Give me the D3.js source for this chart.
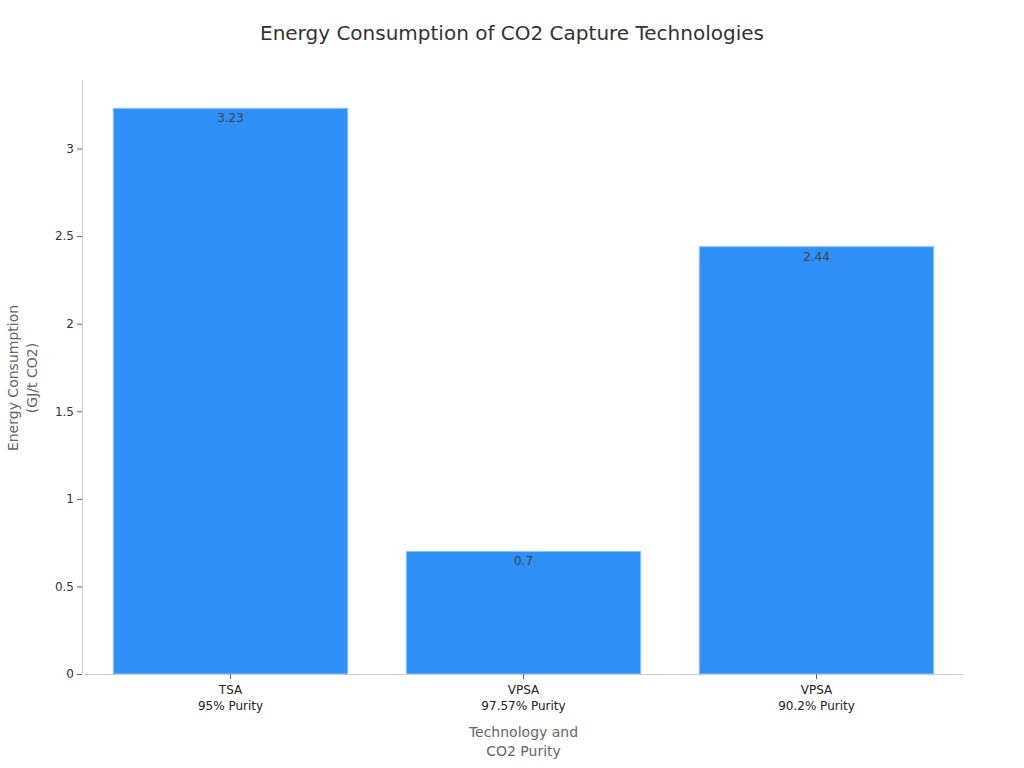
<!DOCTYPE html>
<html>
<head>
<meta charset="utf-8">
<script src="https://cdn.jsdelivr.net/npm/d3@7.9.0/dist/d3.min.js"></script>
<style>
  body { margin: 0; background: #fff; font-family: "DejaVu Sans", sans-serif; }
</style>
</head>
<body>
<div id="chart"></div>
<script>
const technologies = ['TSA', 'VPSA', 'VPSA'];
const purities = ['95% Purity', '97.57% Purity', '90.2% Purity'];
const energy = [3.23, 0.7, 2.44];
const yTicks = [0, 0.5, 1, 1.5, 2, 2.5, 3];

const width = 1024;
const height = 768;
const margin = {top: 80, right: 61, bottom: 94, left: 82};

const rows = energy.map((v, i) => ({ id: i, tech: technologies[i], purity: purities[i], value: v }));

const svg = d3.select('#chart')
  .append('svg')
  .attr('width', width)
  .attr('height', height);

const xScale = d3.scaleBand()
  .domain(rows.map(d => d.id))
  .range([margin.left + 2, width - margin.right])
  .paddingInner(0.2)
  .paddingOuter(0.1);

const yScale = d3.scaleLinear()
  .domain([0, d3.max(energy) * 1.05])
  .range([height - margin.bottom, margin.top]);

// title
svg.append('text')
  .attr('x', width / 2)
  .attr('y', 40)
  .attr('text-anchor', 'middle')
  .attr('font-size', 20)
  .attr('fill', '#333')
  .text('Energy Consumption of CO2 Capture Technologies');

// bars
svg.append('g')
  .selectAll('rect')
  .data(rows)
  .join('rect')
  .attr('x', d => xScale(d.id))
  .attr('y', d => yScale(d.value))
  .attr('width', xScale.bandwidth())
  .attr('height', d => yScale(0) - yScale(d.value))
  .attr('fill', '#2f91f7')
  .attr('stroke', '#8cc4fb')
  .attr('stroke-width', 1);

// value labels
svg.append('g')
  .selectAll('text')
  .data(rows)
  .join('text')
  .attr('x', d => xScale(d.id) + xScale.bandwidth() / 2)
  .attr('y', d => yScale(d.value) + 14)
  .attr('text-anchor', 'middle')
  .attr('font-size', 12)
  .attr('fill', '#444')
  .text(d => d.value);

// y axis
const yAxis = svg.append('g')
  .attr('transform', `translate(${margin.left}, 0)`)
  .call(d3.axisLeft(yScale).tickValues(yTicks).tickSize(5).tickSizeOuter(0).tickFormat(d3.format('~g')));
yAxis.select('.domain').attr('stroke', '#ccc');
yAxis.selectAll('.tick line').attr('stroke', '#666');
yAxis.selectAll('.tick text').attr('font-size', 12).attr('fill', '#333').attr('font-family', 'DejaVu Sans');

// x axis
const xAxis = svg.append('g')
  .attr('transform', `translate(0, ${height - margin.bottom})`)
  .call(d3.axisBottom(xScale).tickSize(5).tickSizeOuter(0).tickFormat(''));
xAxis.select('.domain').attr('stroke', '#ccc');
xAxis.selectAll('.tick line').attr('stroke', '#666');
xAxis.selectAll('.tick').each(function (id) {
  const t = d3.select(this).append('text')
    .attr('fill', '#222')
    .attr('font-size', 12)
    .attr('font-family', 'DejaVu Sans')
    .attr('text-anchor', 'middle')
    .attr('y', 20);
  t.append('tspan').attr('x', 0).text(rows[id].tech);
  t.append('tspan').attr('x', 0).attr('dy', 16).text(rows[id].purity);
});

// axis titles
const xTitle = svg.append('text')
  .attr('text-anchor', 'middle')
  .attr('font-size', 14)
  .attr('fill', '#666')
  .attr('y', 737);
xTitle.append('tspan').attr('x', (margin.left + width - margin.right) / 2 + 1).text('Technology and');
xTitle.append('tspan').attr('x', (margin.left + width - margin.right) / 2 + 1).attr('dy', 19).text('CO2 Purity');

const yTitle = svg.append('text')
  .attr('text-anchor', 'middle')
  .attr('font-size', 14)
  .attr('fill', '#666')
  .attr('transform', `translate(18, ${(margin.top + height - margin.bottom) / 2 + 1}) rotate(-90)`);
yTitle.append('tspan').attr('x', 0).text('Energy Consumption');
yTitle.append('tspan').attr('x', 0).attr('dy', 19).text('(GJ/t CO2)');
</script>
</body>
</html>
